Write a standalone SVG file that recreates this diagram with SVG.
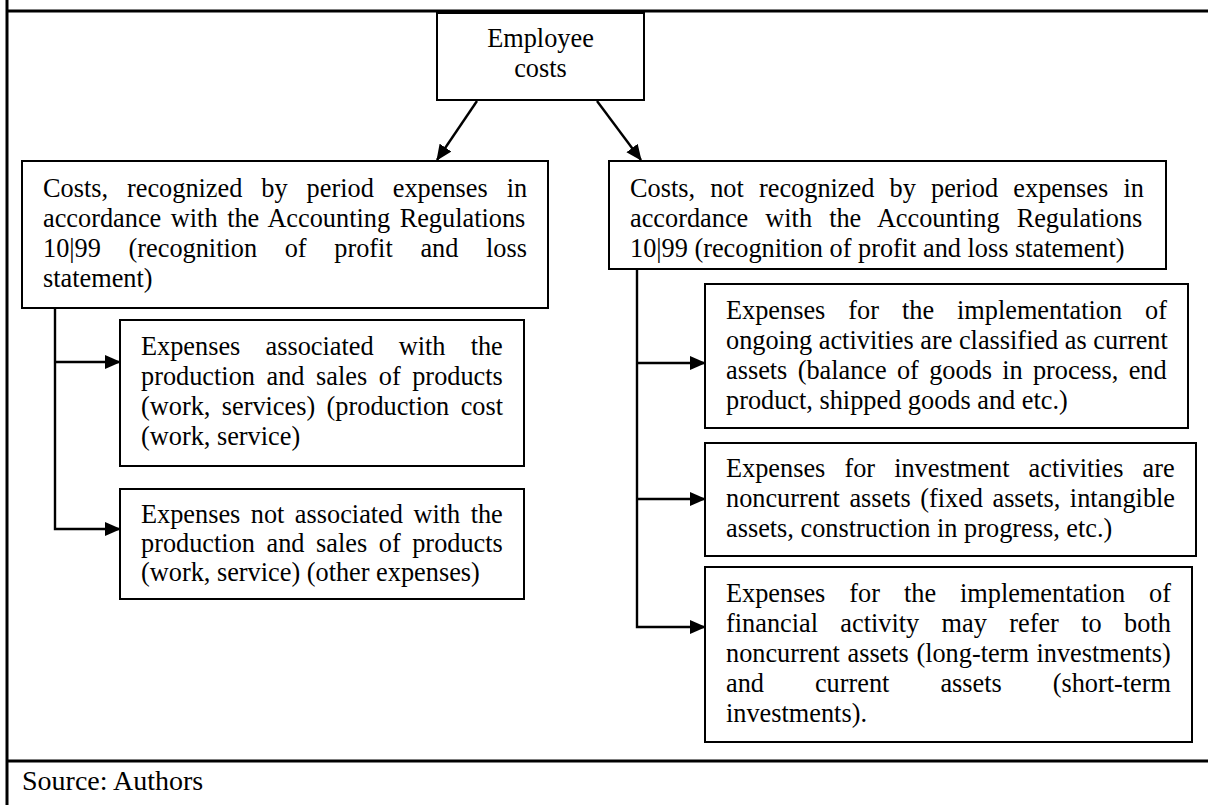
<svg xmlns="http://www.w3.org/2000/svg" width="1208" height="805" viewBox="0 0 1208 805">
  <style>
    .frame { stroke: #000; stroke-width: 3; fill: none; }
    .box { fill: #fff; stroke: #000; stroke-width: 2; }
    .link { fill: none; stroke: #000; stroke-width: 2.4; }
    text { font-family: "Liberation Serif", "Times New Roman", serif; font-size: 26.3px; fill: #000; }
    .mid { text-anchor: middle; }
    .note { font-size: 28px; }
  </style>
  <defs>
    <marker id="arrow" markerUnits="userSpaceOnUse" markerWidth="17" markerHeight="15" refX="15" refY="7" orient="auto">
      <path d="M0,0 L16,7 L0,14 Z" fill="#000"/>
    </marker>
  </defs>

  <rect width="1208" height="805" fill="#fff"/>

  <!-- table frame -->
  <g id="frame">
    <line class="frame" x1="7" y1="11" x2="1208" y2="11"/>
    <line class="frame" x1="7" y1="0" x2="7" y2="805"/>
    <line class="frame" x1="7" y1="761" x2="1208" y2="761"/>
    <text class="note" x="22" y="790">Source: Authors</text>
  </g>

  <!-- connectors -->
  <g id="connectors">
    <line class="link" x1="477" y1="101" x2="437" y2="160" marker-end="url(#arrow)"/>
    <line class="link" x1="597" y1="101" x2="641" y2="160" marker-end="url(#arrow)"/>
    <path class="link" d="M55,308 V529 H120" marker-end="url(#arrow)"/>
    <path class="link" d="M55,362 H120" marker-end="url(#arrow)"/>
    <path class="link" d="M637,269 V627 H705" marker-end="url(#arrow)"/>
    <path class="link" d="M637,363 H705" marker-end="url(#arrow)"/>
    <path class="link" d="M637,499 H705" marker-end="url(#arrow)"/>
  </g>

  <g id="employee-costs">
    <rect class="box" x="437" y="13" width="207" height="87"/>
    <text class="mid" x="540.5" y="47">Employee</text>
    <text class="mid" x="540.5" y="77">costs</text>
  </g>

  <g id="recognized">
    <rect class="box" x="22" y="161" width="526" height="147"/>
    <text x="43" y="197" style="word-spacing:12.4px">Costs, recognized by period expenses in</text>
    <text x="43" y="227" style="word-spacing:3px">accordance with the Accounting Regulations</text>
    <text x="43" y="257" style="word-spacing:21.1px">10|99 (recognition of profit and loss</text>
    <text x="43" y="287">statement)</text>
  </g>

  <g id="not-recognized">
    <rect class="box" x="609" y="161" width="557" height="108"/>
    <text x="630" y="197" style="word-spacing:8.6px">Costs, not recognized by period expenses in</text>
    <text x="630" y="227" style="word-spacing:10.5px">accordance with the Accounting Regulations</text>
    <text x="630" y="257">10|99 (recognition of profit and loss statement)</text>
  </g>

  <g id="production-expenses">
    <rect class="box" x="120" y="320" width="404" height="146"/>
    <text x="141" y="355" style="word-spacing:18.6px">Expenses associated with the</text>
    <text x="141" y="385" style="word-spacing:5px">production and sales of products</text>
    <text x="141" y="415" style="word-spacing:4.8px">(work, services) (production cost</text>
    <text x="141" y="445">(work, service)</text>
  </g>

  <g id="other-expenses">
    <rect class="box" x="120" y="489" width="404" height="110"/>
    <text x="141" y="523" style="word-spacing:3.9px">Expenses not associated with the</text>
    <text x="141" y="552" style="word-spacing:5px">production and sales of products</text>
    <text x="141" y="581">(work, service) (other expenses)</text>
  </g>

  <g id="current-assets">
    <rect class="box" x="705" y="284" width="483" height="144"/>
    <text x="726" y="319" style="word-spacing:16.4px">Expenses for the implementation of</text>
    <text x="726" y="349">ongoing activities are classified as current</text>
    <text x="726" y="379" style="word-spacing:3.7px">assets (balance of goods in process, end</text>
    <text x="726" y="409">product, shipped goods and etc.)</text>
  </g>

  <g id="noncurrent-assets">
    <rect class="box" x="705" y="443" width="491" height="113"/>
    <text x="726" y="477" style="word-spacing:12.5px">Expenses for investment activities are</text>
    <text x="726" y="507" style="word-spacing:2.9px">noncurrent assets (fixed assets, intangible</text>
    <text x="726" y="537">assets, construction in progress, etc.)</text>
  </g>

  <g id="financial-activity">
    <rect class="box" x="705" y="567" width="487" height="175"/>
    <text x="726" y="602" style="word-spacing:17.4px">Expenses for the implementation of</text>
    <text x="726" y="632" style="word-spacing:15.8px">financial activity may refer to both</text>
    <text x="726" y="662" style="word-spacing:1px">noncurrent assets (long-term investments)</text>
    <text x="726" y="692" style="word-spacing:44.4px">and current assets (short-term</text>
    <text x="726" y="722">investments).</text>
  </g>
</svg>
